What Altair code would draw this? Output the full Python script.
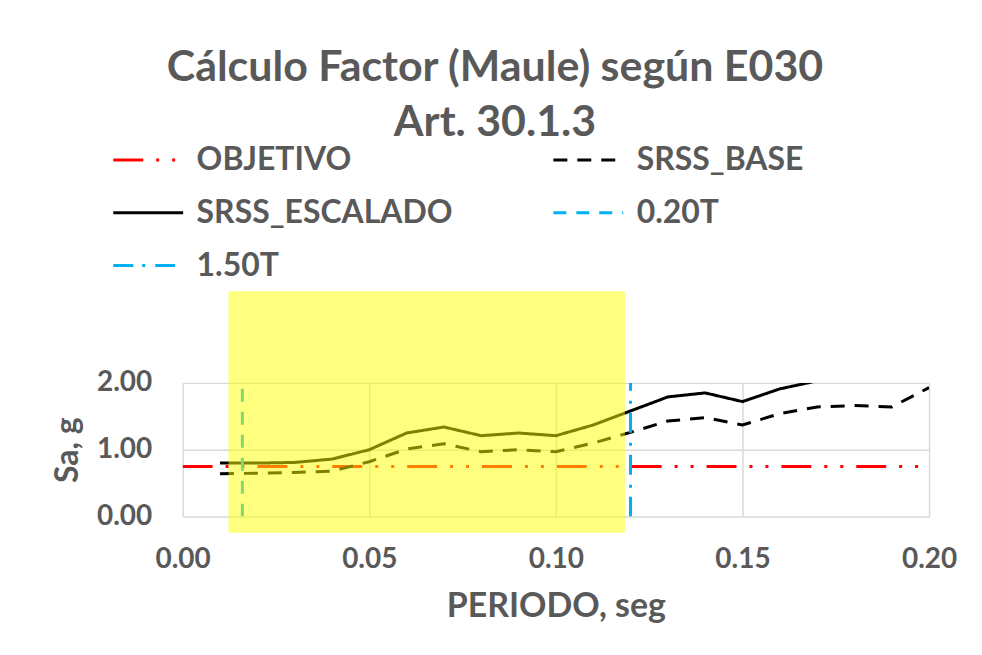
import altair as alt
import pandas as pd

# ---------------- data ----------------
periods = [0.01, 0.02, 0.03, 0.04, 0.05, 0.06, 0.07, 0.08, 0.09, 0.10,
           0.11, 0.12, 0.13, 0.14, 0.15, 0.16, 0.17, 0.18, 0.19, 0.20]
srss_base = [0.64, 0.65, 0.66, 0.68, 0.82, 1.01, 1.09, 0.97, 1.00, 0.97,
             1.10, 1.26, 1.43, 1.48, 1.37, 1.54, 1.64, 1.66, 1.64, 1.93]
srss_escalado = [0.80, 0.80, 0.81, 0.86, 1.00, 1.25, 1.34, 1.21, 1.25, 1.21,
                 1.37, 1.58, 1.79, 1.85, 1.72, 1.91, 2.03, 2.06, 2.03, 2.39]
objetivo_x = [0.00, 0.20]
objetivo_y = [0.75, 0.75]
T = 0.08
t020_x = [0.20 * T, 0.20 * T]
t150_x = [1.50 * T, 1.50 * T]
vertical_y = [0.0, 2.0]

# legend order (filled column by column: col 1 then col 2)
series_names = ["OBJETIVO", "SRSS_ESCALADO", "1.50T", "SRSS_BASE", "0.20T"]
series_colors = ["#FF0000", "#000000", "#00B0F0", "#000000", "#00B0F0"]
series_dashes = [[30, 13, 3, 13, 3, 13], [1, 0], [20, 9, 3, 10], [14, 10], [13, 10]]

highlight_x = [0.0123, 0.1185]
highlight_y = [-0.24, 3.37]

x_ticks = [0.00, 0.05, 0.10, 0.15, 0.20]
y_ticks = [0.0, 1.0, 2.0]

title_lines = ["Cálculo Factor (Maule) según E030", "Art. 30.1.3"]

# ---------------- tables ----------------
rows = []
def add(name, xs, ys):
    for i, (xv, yv) in enumerate(zip(xs, ys)):
        rows.append({"serie": name, "x": xv, "y": yv, "orden": i})

add("OBJETIVO", objetivo_x, objetivo_y)
add("SRSS_BASE", periods, srss_base)
add("SRSS_ESCALADO", periods, srss_escalado)
add("0.20T", t020_x, vertical_y)
add("1.50T", t150_x, vertical_y)
df = pd.DataFrame(rows)

rect_df = pd.DataFrame({"x": [highlight_x[0]], "x2": [highlight_x[1]],
                        "y": [highlight_y[0]], "y2": [highlight_y[1]]})

GRAY = "#595959"
FONT = "Lato"

xscale = alt.Scale(domain=[0, 0.2], nice=False, zero=False)
yscale = alt.Scale(domain=[0, 2], nice=False)

legend = alt.Legend(
    title=None, orient="none", legendX=-71, legendY=-260, columns=2,
    columnPadding=94, rowPadding=0, symbolType="stroke", symbolSize=4900,
    symbolStrokeWidth=3, labelFont=FONT, labelFontSize=32, labelFontWeight="bold",
    labelColor=GRAY, labelOffset=12, labelLimit=500, padding=0,
)

lines = alt.Chart(df).mark_line(strokeWidth=3, clip=True).encode(
    x=alt.X("x:Q", scale=xscale, axis=alt.Axis(
        values=x_ticks, format=".2f", title="PERIODO, seg", grid=True,
        gridColor="#D9D9D9", gridWidth=1.5, domain=False, ticks=False,
        labelFlush=False,
        labelFont=FONT, labelFontSize=28, labelFontWeight="bold", labelColor=GRAY,
        labelPadding=29, titleFont=FONT, titleFontSize=34, titleFontWeight="bold",
        titleColor=GRAY, titlePadding=16)),
    y=alt.Y("y:Q", scale=yscale, axis=alt.Axis(
        values=y_ticks, format=".2f", title="Sa, g", grid=True,
        gridColor="#D9D9D9", gridWidth=1.5, domain=False, ticks=False,
        labelFlush=False,
        labelFont=FONT, labelFontSize=28, labelFontWeight="bold", labelColor=GRAY,
        labelPadding=31, titleFont=FONT, titleFontSize=32, titleFontWeight="bold",
        titleColor=GRAY, titlePadding=12)),
    color=alt.Color("serie:N", scale=alt.Scale(domain=series_names, range=series_colors),
                    legend=legend),
    strokeDash=alt.StrokeDash("serie:N", scale=alt.Scale(domain=series_names, range=series_dashes),
                              legend=legend),
    detail="serie:N",
    order="orden:Q",
)

highlight = alt.Chart(rect_df).mark_rect(color="#FFFF00", opacity=0.5, clip=False).encode(
    x="x:Q", x2="x2:Q", y="y:Q", y2="y2:Q"
)

chart = alt.layer(lines, highlight).properties(
    width=748, height=134,
    title=alt.TitleParams(text=title_lines, font=FONT, fontSize=43, fontWeight="bold",
                          color=GRAY, anchor="middle", frame="group", dx=-61,
                          offset=-22, lineHeight=56),
    autosize=alt.AutoSizeParams(type="none"),
    padding={"left": 175, "top": 375, "right": 45, "bottom": 120},
    background="white",
).configure_view(stroke=None)

chart.save("out.html", embed_options={"renderer": "svg", "actions": False})
